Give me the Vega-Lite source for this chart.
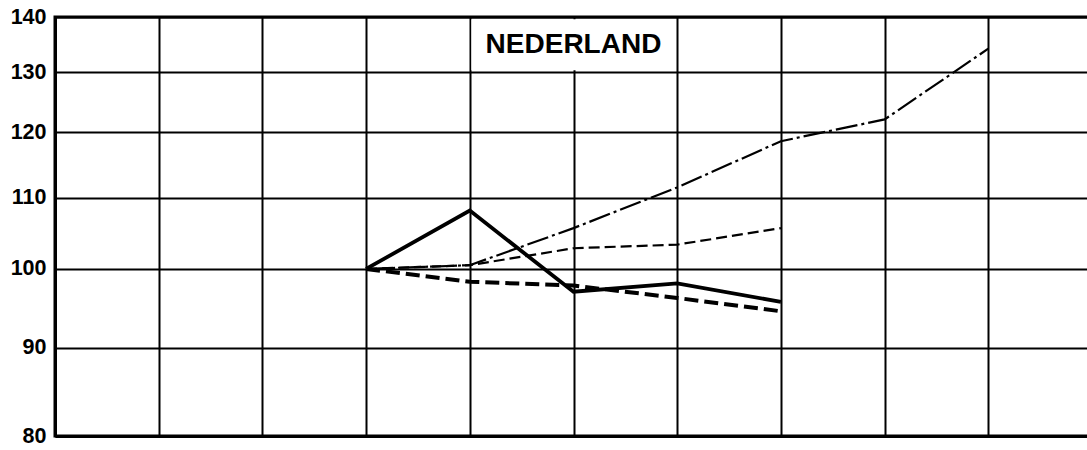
{
  "$schema": "https://vega.github.io/schema/vega-lite/v6.json",
  "autosize": "none",
  "padding": {"left": 55, "top": 17, "right": 0, "bottom": 14},
  "width": 1037,
  "height": 419,
  "background": "white",
  "config": {
    "view": {"stroke": "black", "strokeWidth": 3},
    "axis": {"gridColor": "black", "gridWidth": 2, "gridOpacity": 1, "domainColor": "black", "domainWidth": 3, "ticks": false, "tickSize": 0}
  },
  "datasets": {
    "lines": [
      {"series": "A", "t": 3, "v": 100}, {"series": "A", "t": 4, "v": 108.1}, {"series": "A", "t": 5, "v": 97.0}, {"series": "A", "t": 6, "v": 98.1}, {"series": "A", "t": 7, "v": 95.7},
      {"series": "B", "t": 3, "v": 100}, {"series": "B", "t": 4, "v": 98.3}, {"series": "B", "t": 5, "v": 97.8}, {"series": "B", "t": 6, "v": 96.2}, {"series": "B", "t": 7, "v": 94.5},
      {"series": "C", "t": 3, "v": 100}, {"series": "C", "t": 4, "v": 100.5}, {"series": "C", "t": 5, "v": 102.8}, {"series": "C", "t": 6, "v": 103.3}, {"series": "C", "t": 7, "v": 105.6},
      {"series": "D", "t": 3, "v": 100}, {"series": "D", "t": 4, "v": 100.5}, {"series": "D", "t": 5, "v": 105.6}, {"series": "D", "t": 6, "v": 111.5}, {"series": "D", "t": 7, "v": 118.6}, {"series": "D", "t": 8, "v": 122.1}, {"series": "D", "t": 9, "v": 134.2}
    ],
    "label": [{"x1": 4.015, "x2": 5.985, "y1": 130.4, "y2": 139.6, "xm": 5, "ym": 135, "text": "NEDERLAND"}]
  },
  "encoding": {
    "x": {"field": "t", "type": "quantitative", "scale": {"domain": [0, 10], "nice": false, "zero": false},
          "axis": {"title": null, "labels": false, "values": [0,1,2,3,4,5,6,7,8,9,10], "grid": true, "domain": true}},
    "y": {"field": "v", "type": "quantitative", "scale": {"type": "log", "domain": [80, 140], "nice": false, "zero": false},
          "axis": {"title": null, "values": [80,90,100,110,120,130,140], "grid": true, "labelFont": "Liberation Sans", "labelFontWeight": "bold", "labelFontSize": 21.5, "labelColor": "black", "labelPadding": 9, "labelBaseline": "middle"}}
  },
  "layer": [
    {
      "data": {"name": "lines"},
      "transform": [{"filter": "datum.series === 'D'"}],
      "mark": {"type": "line", "color": "black", "strokeWidth": 2.2, "strokeDash": [22, 4, 3, 4], "strokeCap": "butt"}
    },
    {
      "data": {"name": "lines"},
      "transform": [{"filter": "datum.series === 'C'"}],
      "mark": {"type": "line", "color": "black", "strokeWidth": 2.2, "strokeDash": [11, 5], "strokeCap": "butt"}
    },
    {
      "data": {"name": "lines"},
      "transform": [{"filter": "datum.series === 'B'"}],
      "mark": {"type": "line", "color": "black", "strokeWidth": 4, "strokeDash": [14, 6], "strokeCap": "butt"}
    },
    {
      "data": {"name": "lines"},
      "transform": [{"filter": "datum.series === 'A'"}],
      "mark": {"type": "line", "color": "black", "strokeWidth": 3.8, "strokeJoin": "miter"}
    },
    {
      "data": {"name": "label"},
      "mark": {"type": "rect", "fill": "white"},
      "encoding": {
        "x": {"field": "x1", "type": "quantitative"},
        "x2": {"field": "x2"},
        "y": {"field": "y1", "type": "quantitative"},
        "y2": {"field": "y2"}
      }
    },
    {
      "data": {"name": "label"},
      "mark": {"type": "text", "font": "Liberation Sans", "fontWeight": "bold", "fontSize": 28, "color": "black", "align": "center", "baseline": "middle", "dy": 1},
      "encoding": {
        "x": {"field": "xm", "type": "quantitative"},
        "y": {"field": "ym", "type": "quantitative"},
        "text": {"field": "text"}
      }
    }
  ]
}
